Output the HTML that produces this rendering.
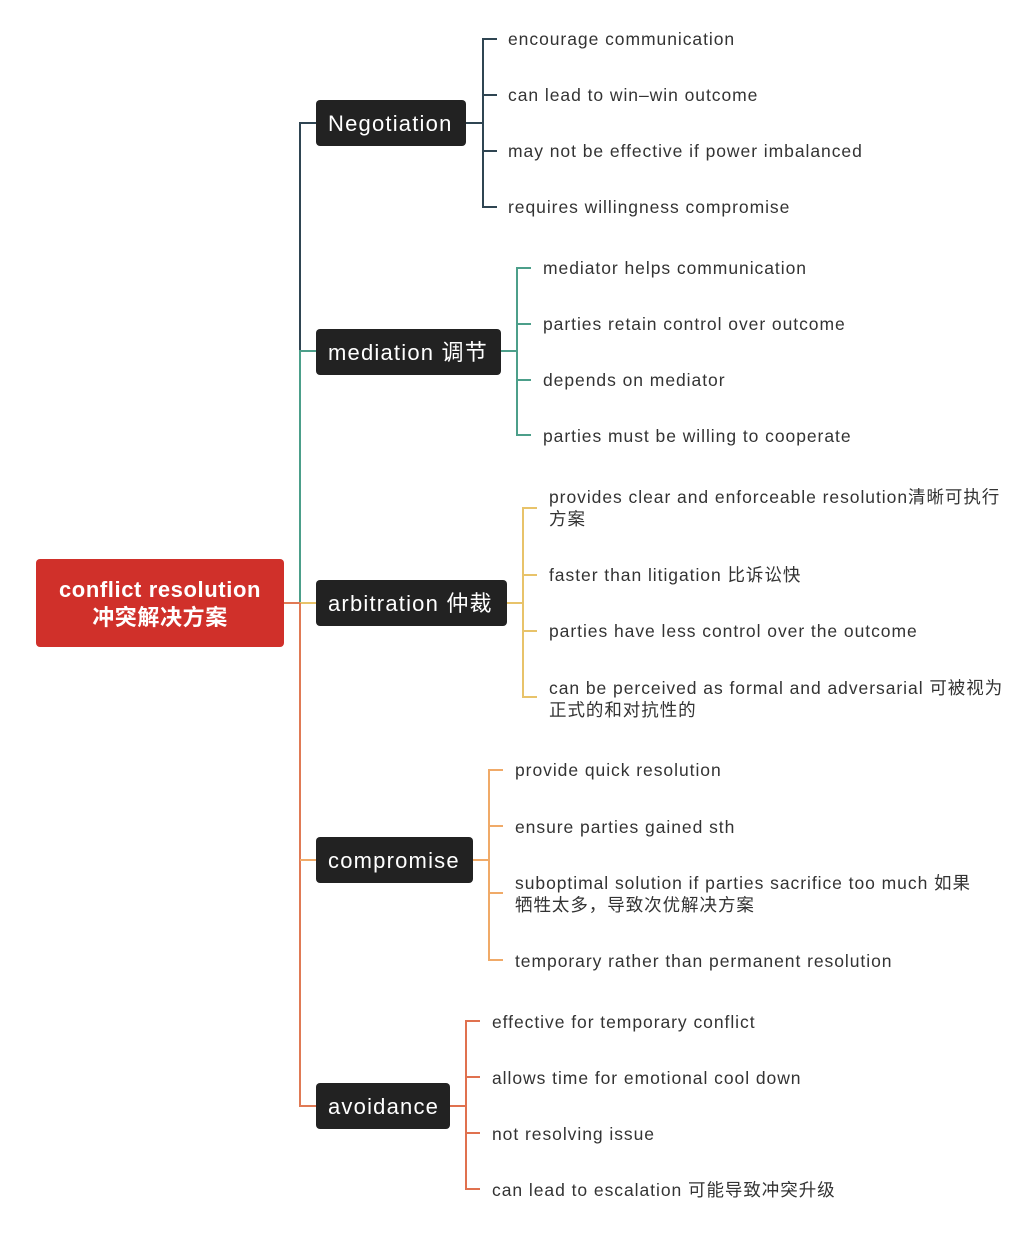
<!DOCTYPE html>
<html><head><meta charset="utf-8"><style>
html,body{margin:0;padding:0;background:#fff;}
svg text{font-family:"Liberation Sans","Noto Sans CJK SC",sans-serif;}
.l{font-size:17.5px;fill:#333;letter-spacing:0.95px;}
.b{font-size:22px;fill:#fff;letter-spacing:1.2px;}
</style></head><body>
<svg width="1030" height="1232" viewBox="0 0 1030 1232" xmlns="http://www.w3.org/2000/svg">
<g fill="none" stroke-width="2">
<path d="M316 123 H300 V351" stroke="#2f4552"/>
<path d="M316 351 H300 V603" stroke="#4c9f8a"/>
<path d="M284 603 H316" stroke="#e8c36a"/>
<path d="M284 603 H300" stroke="#e07a55"/>
<path d="M300 603 V1106 H316" stroke="#e07a55"/>
<path d="M300 860 H316" stroke="#f0aa68"/>
<g stroke="#2f4552"><path d="M466 123 H483"/><path d="M497 39 H483 V207 H497"/><path d="M483 95 H497"/><path d="M483 151 H497"/></g>
<g stroke="#4c9f8a"><path d="M501 351 H517"/><path d="M531 268 H517 V435 H531"/><path d="M517 324 H531"/><path d="M517 380 H531"/></g>
<g stroke="#e8c36a"><path d="M507 603 H523"/><path d="M537 508 H523 V697 H537"/><path d="M523 575 H537"/><path d="M523 631 H537"/></g>
<g stroke="#f0aa68"><path d="M473 860 H489"/><path d="M503 770 H489 V960 H503"/><path d="M489 826 H503"/><path d="M489 893 H503"/></g>
<g stroke="#e0714f"><path d="M450 1106 H466"/><path d="M480 1021 H466 V1189 H480"/><path d="M466 1077 H480"/><path d="M466 1133 H480"/></g>
</g>
<rect x="36" y="559" width="248" height="88" rx="4" fill="#d0302a"/>
<text x="160" y="597" text-anchor="middle" font-size="22" font-weight="bold" fill="#fff" letter-spacing="0.6">conflict resolution</text>
<text x="160" y="625" text-anchor="middle" font-size="22" font-weight="bold" fill="#fff" letter-spacing="0.6">冲突解决方案</text>
<rect x="316" y="100" width="150" height="46" rx="4" fill="#222"/><text class="b" x="328" y="131">Negotiation</text>
<rect x="316" y="329" width="185" height="46" rx="4" fill="#222"/><text class="b" x="328" y="360">mediation 调节</text>
<rect x="316" y="580" width="191" height="46" rx="4" fill="#222"/><text class="b" x="328" y="611">arbitration 仲裁</text>
<rect x="316" y="837" width="157" height="46" rx="4" fill="#222"/><text class="b" x="328" y="868">compromise</text>
<rect x="316" y="1083" width="134" height="46" rx="4" fill="#222"/><text class="b" x="328" y="1114">avoidance</text>
<text class="l" x="508" y="45">encourage communication</text>
<text class="l" x="508" y="101">can lead to win–win outcome</text>
<text class="l" x="508" y="157">may not be effective if power imbalanced</text>
<text class="l" x="508" y="213">requires willingness compromise</text>
<text class="l" x="543" y="274">mediator helps communication</text>
<text class="l" x="543" y="330">parties retain control over outcome</text>
<text class="l" x="543" y="386">depends on mediator</text>
<text class="l" x="543" y="442">parties must be willing to cooperate</text>
<text class="l" x="549" y="503">provides clear and enforceable resolution清晰可执行</text>
<text class="l" x="549" y="525">方案</text>
<text class="l" x="549" y="581">faster than litigation 比诉讼快</text>
<text class="l" x="549" y="637">parties have less control over the outcome</text>
<text class="l" x="549" y="694">can be perceived as formal and adversarial 可被视为</text>
<text class="l" x="549" y="716">正式的和对抗性的</text>
<text class="l" x="515" y="776">provide quick resolution</text>
<text class="l" x="515" y="833">ensure parties gained sth</text>
<text class="l" x="515" y="889">suboptimal solution if parties sacrifice too much 如果</text>
<text class="l" x="515" y="911">牺牲太多，导致次优解决方案</text>
<text class="l" x="515" y="967">temporary rather than permanent resolution</text>
<text class="l" x="492" y="1028">effective for temporary conflict</text>
<text class="l" x="492" y="1084">allows time for emotional cool down</text>
<text class="l" x="492" y="1140">not resolving issue</text>
<text class="l" x="492" y="1196">can lead to escalation 可能导致冲突升级</text>
</svg>
</body></html>
